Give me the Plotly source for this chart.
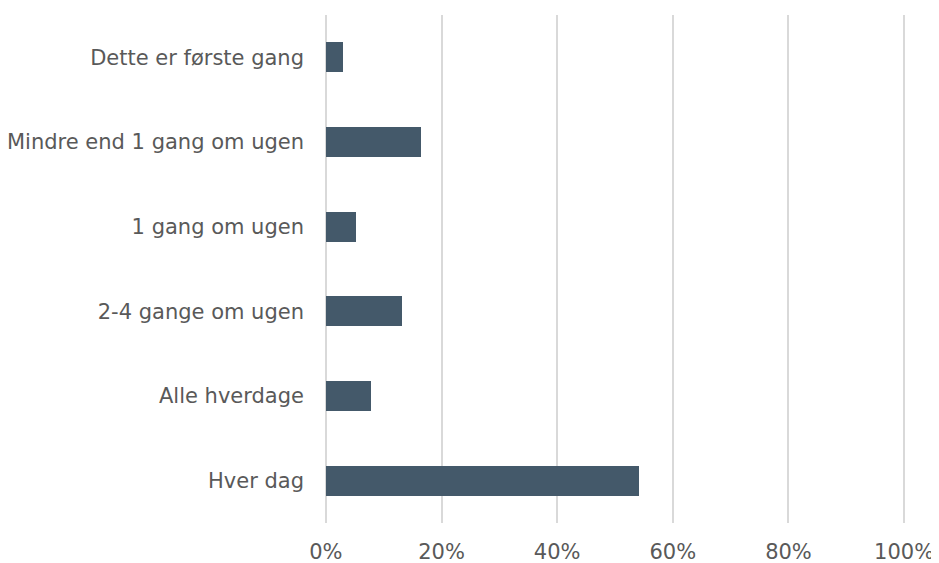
import plotly.graph_objects as go

categories = ["Dette er første gang", "Mindre end 1 gang om ugen", "1 gang om ugen",
              "2-4 gange om ugen", "Alle hverdage", "Hver dag"]
values = [0.029, 0.165, 0.052, 0.131, 0.078, 0.541]
tick_vals = [0, 0.2, 0.4, 0.6, 0.8, 1.0]
tick_text = ["0%", "20%", "40%", "60%", "80%", "100%"]

fig = go.Figure(go.Bar(
    x=values, y=categories, orientation="h",
    marker=dict(color="#44596A", line=dict(width=0)),
    width=0.354,
))

font = dict(family="DejaVu Sans, Verdana, sans-serif", size=21, color="#595959")

fig.update_layout(
    width=931, height=555,
    margin=dict(l=315, r=32, t=7, b=40),
    paper_bgcolor="white", plot_bgcolor="white",
    font=font,
    showlegend=False,
    bargap=0,
)
fig.update_xaxes(
    range=[-0.005, 1.005], tickvals=tick_vals, ticktext=tick_text,
    showgrid=True, gridcolor="#D9D9D9", gridwidth=1.5,
    zeroline=False, showline=False, ticks="",
    ticklabelstandoff=14,
    tickfont=font,
    automargin=False,
)
fig.update_yaxes(
    categoryorder="array", categoryarray=categories[::-1],
    showgrid=False, zeroline=False, showline=False, ticks="",
    ticklabelstandoff=18,
    tickfont=font,
    automargin=False,
)

fig.write_html("out.html")
